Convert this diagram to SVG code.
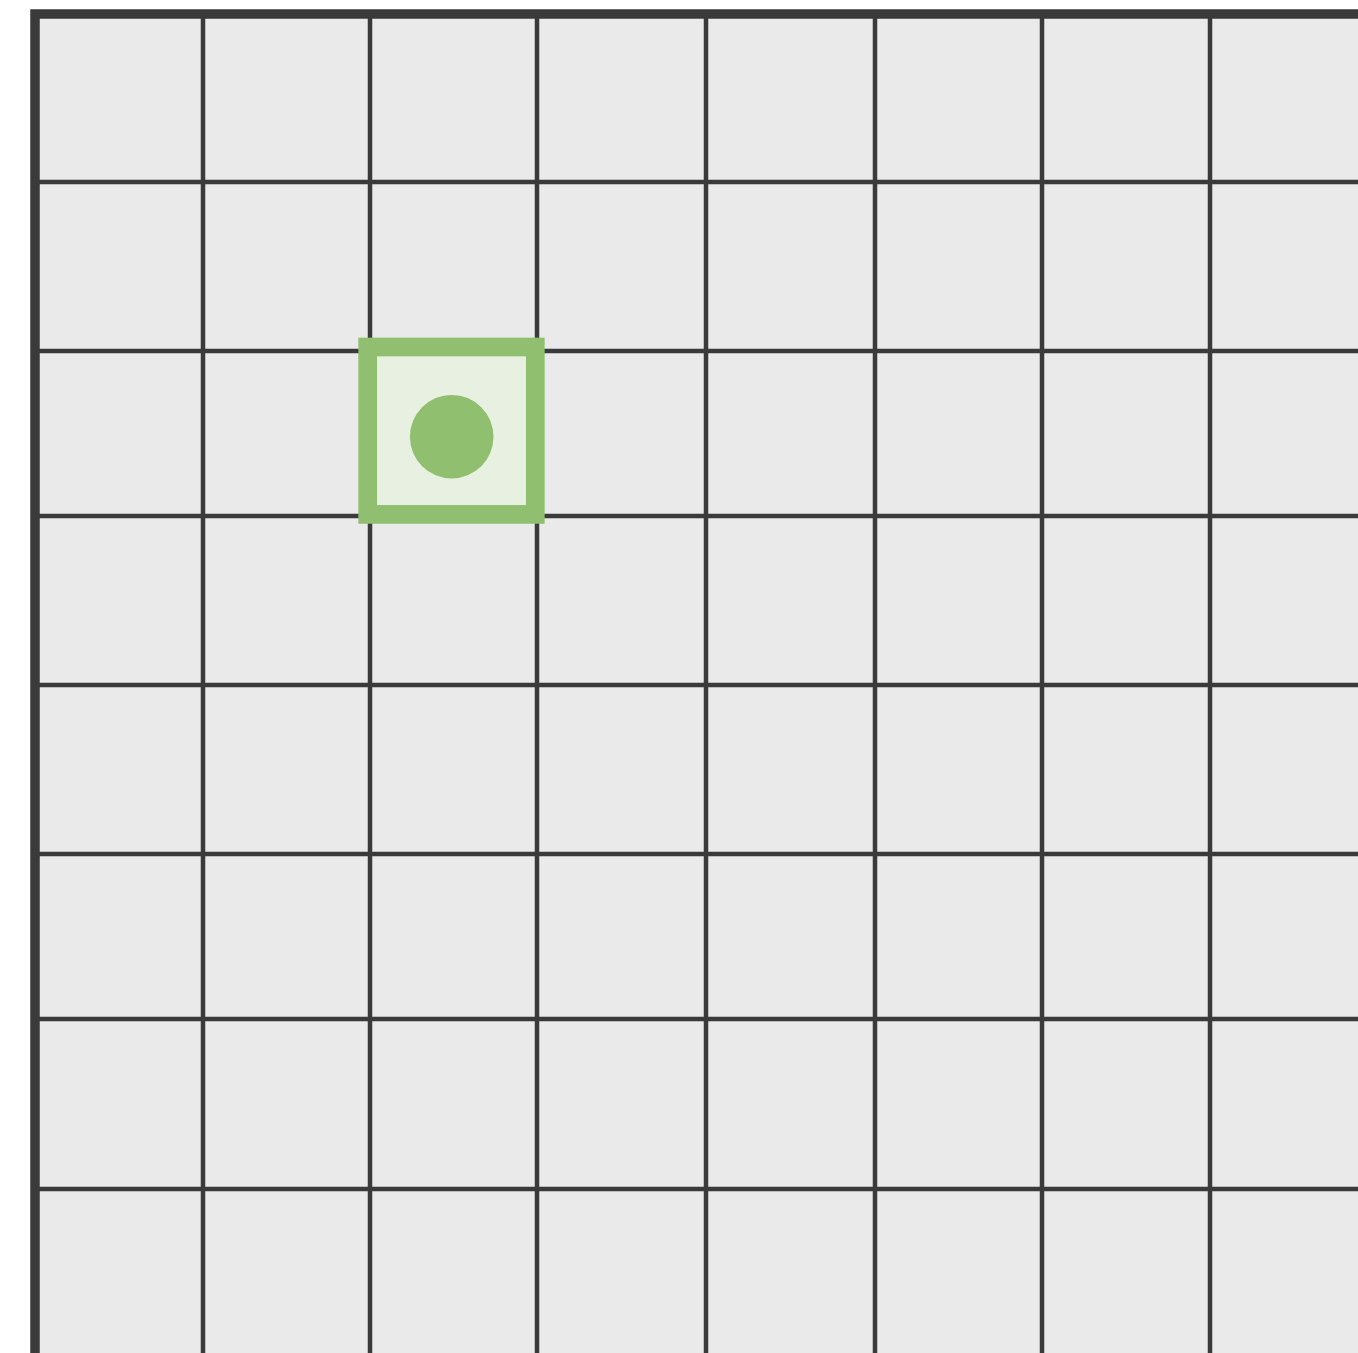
<svg xmlns="http://www.w3.org/2000/svg" width="1358" height="1353" viewBox="0 0 1358 1353">
<style>
.g{stroke:#3a3a3a;stroke-width:4.5;fill:none}
.b{stroke:#3a3a3a;stroke-width:9.5;fill:none}
</style>
<rect width="1358" height="1353" fill="#ffffff"/>
<rect x="35" y="14" width="1330" height="1345" fill="#eaeaea"/>
<g id="grid">
<line class="g" x1="203" y1="14" x2="203" y2="1353"/>
<line class="g" x1="370" y1="14" x2="370" y2="1353"/>
<line class="g" x1="537" y1="14" x2="537" y2="1353"/>
<line class="g" x1="706" y1="14" x2="706" y2="1353"/>
<line class="g" x1="875" y1="14" x2="875" y2="1353"/>
<line class="g" x1="1042" y1="14" x2="1042" y2="1353"/>
<line class="g" x1="1210" y1="14" x2="1210" y2="1353"/>
<line class="g" x1="35" y1="182" x2="1358" y2="182"/>
<line class="g" x1="35" y1="351" x2="1358" y2="351"/>
<line class="g" x1="35" y1="516" x2="1358" y2="516"/>
<line class="g" x1="35" y1="685" x2="1358" y2="685"/>
<line class="g" x1="35" y1="854" x2="1358" y2="854"/>
<line class="g" x1="35" y1="1019" x2="1358" y2="1019"/>
<line class="g" x1="35" y1="1189" x2="1358" y2="1189"/>
<polyline class="b" points="35,1353 35,14 1358,14"/>
</g>
<g id="cell">
<rect x="367.7" y="347" width="167.6" height="167.4" fill="#e8f0e1" stroke="#8fbf6f" stroke-width="18.7"/>
<circle cx="451.7" cy="436.7" r="41.8" fill="#8fbf6f"/>
</g>
</svg>
